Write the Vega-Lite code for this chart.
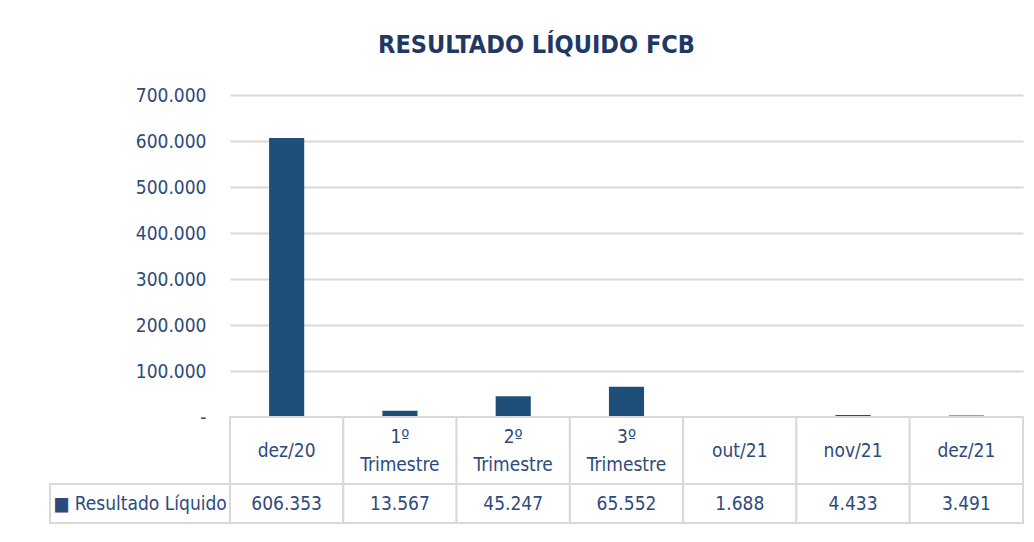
{
  "$schema": "https://vega.github.io/schema/vega-lite/v6.json",
  "padding": {"left": 49, "top": 33, "right": 5, "bottom": 5},
  "background": "white",
  "title": {"text": "RESULTADO LÍQUIDO FCB", "fontSize": 25, "fontWeight": "bold", "color": "#1F3864", "offset": 28, "anchor": "middle"},
  "datasets": {
    "d": [
      {"cat": "dez/20", "value": 606353},
      {"cat": "1º Trimestre", "value": 13567},
      {"cat": "2º Trimestre", "value": 45247},
      {"cat": "3º Trimestre", "value": 65552},
      {"cat": "out/21", "value": 1688},
      {"cat": "nov/21", "value": 4433},
      {"cat": "dez/21", "value": 3491}
    ],
    "leg": [{"label": "■ Resultado Líquido"}]
  },
  "columns": 2,
  "spacing": 0,
  "bounds": "flush",
  "concat": [
    {
      "width": 180, "height": 322,
      "data": {"name": "leg"},
      "mark": {"type": "text", "text": ""}
    },
    {
      "width": 793,
      "height": 322,
      "data": {"name": "d"},
      "mark": {"type": "bar", "color": "#1F4E79", "width": {"band": 0.31}},
      "encoding": {
        "x": {"field": "cat", "type": "nominal", "sort": null, "axis": null, "scale": {"paddingInner": 0, "paddingOuter": 0}},
        "y": {
          "field": "value", "type": "quantitative",
          "scale": {"domain": [0, 700000], "nice": false},
          "axis": {
            "title": null, "values": [0, 100000, 200000, 300000, 400000, 500000, 600000, 700000],
            "format": ",.0f", "labelExpr": "datum.value == 0 ? '-' : datum.label",
            "domain": false, "ticks": false, "labelPadding": 24,
            "labelFontSize": 19, "labelColor": "#2E4A7D",
            "gridColor": "#D9D9D9", "gridWidth": 2
          }
        }
      }
    },
    {
      "width": 180, "height": 67,
      "data": {"name": "leg"},
      "mark": {"type": "text", "text": ""}
    },
    {
      "width": 793, "height": 67,
      "data": {"name": "d"},
      "encoding": {
        "x": {"field": "cat", "type": "nominal", "sort": null, "axis": null, "scale": {"paddingInner": 0, "paddingOuter": 0}}
      },
      "layer": [
        {"mark": {"type": "rect", "fill": "white", "stroke": "#D9D9D9", "strokeWidth": 2}},
        {"transform": [{"filter": "indexof(datum.cat, ' ') < 0"}],
         "mark": {"type": "text", "fontSize": 19, "color": "#2E4A7D", "baseline": "middle"},
         "encoding": {"text": {"field": "cat"}}},
        {"transform": [{"filter": "indexof(datum.cat, ' ') >= 0"}],
         "mark": {"type": "text", "lineBreak": " ", "fontSize": 19, "lineHeight": 28, "dy": -14, "color": "#2E4A7D", "baseline": "middle"},
         "encoding": {"text": {"field": "cat"}}}
      ]
    },
    {
      "width": 180, "height": 39,
      "view": {"stroke": "#D9D9D9", "strokeWidth": 2},
      "data": {"name": "leg"},
      "mark": {"type": "text", "fontSize": 19, "color": "#2E4A7D", "align": "center", "baseline": "middle"},
      "encoding": {"text": {"field": "label"}}
    },
    {
      "width": 793, "height": 39,
      "data": {"name": "d"},
      "encoding": {
        "x": {"field": "cat", "type": "nominal", "sort": null, "axis": null, "scale": {"paddingInner": 0, "paddingOuter": 0}}
      },
      "layer": [
        {"mark": {"type": "rect", "fill": "white", "stroke": "#D9D9D9", "strokeWidth": 2}},
        {"mark": {"type": "text", "fontSize": 19, "color": "#2E4A7D", "baseline": "middle"},
         "encoding": {"text": {"field": "value", "format": ",.0f"}}}
      ]
    }
  ],
  "config": {
    "view": {"stroke": null},
    "font": "DejaVu Sans Condensed, Roboto Condensed, Liberation Sans Narrow, Roboto, sans-serif",
    "locale": {"number": {"decimal": ",", "thousands": ".", "grouping": [3], "currency": ["R$ ", ""]}}
  }
}
